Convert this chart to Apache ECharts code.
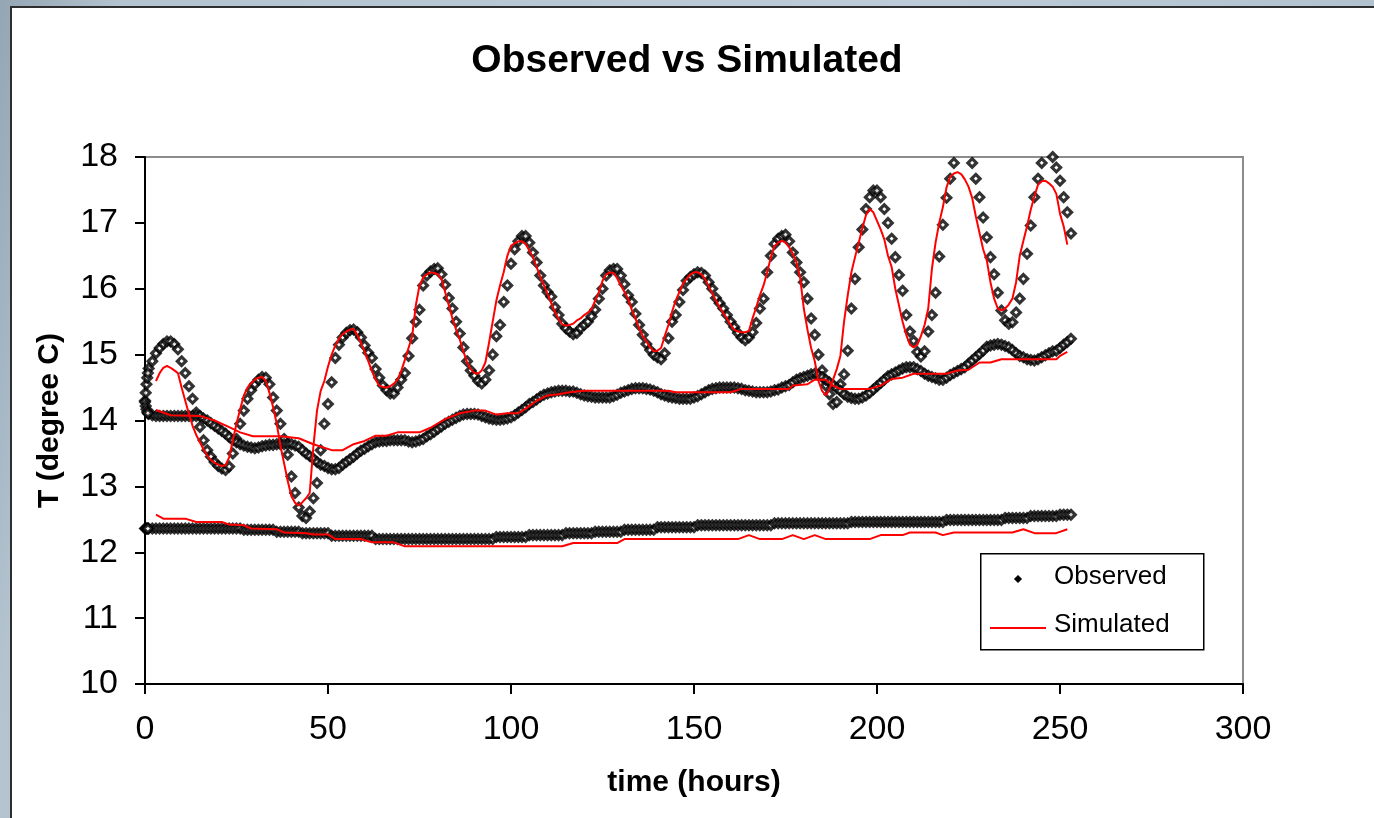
<!DOCTYPE html>
<html><head><meta charset="utf-8">
<script src="https://cdn.jsdelivr.net/npm/echarts@6/dist/echarts.min.js"></script>
<style>
html,body{margin:0;padding:0;width:1374px;height:818px;overflow:hidden;
 background:linear-gradient(100deg,#94a5b3 0%,#b3c3d0 8%,#bccbd7 60%,#aebfcc 100%);}
#frame{position:absolute;left:10px;top:6px;width:1400px;height:900px;background:#fff;border:2px solid #2e2e2e;}
#chart{position:absolute;left:0;top:0;width:1374px;height:818px;}
</style></head>
<body><div id="frame"></div><div id="chart"></div>
<script>
// ---- data ----
const xTicks = [0, 50, 100, 150, 200, 250, 300];
const yTicks = [10, 11, 12, 13, 14, 15, 16, 17, 18];

// observed, hourly from t = 0
const obsA = [
14.30,14.79,14.90,15.02,15.10,15.16,15.20,15.20,15.16,15.08,
14.90,14.72,14.52,14.33,14.12,13.90,13.70,13.55,13.45,13.37,
13.31,13.27,13.25,13.30,13.50,13.72,13.95,14.15,14.33,14.46,
14.55,14.62,14.66,14.65,14.55,14.35,14.15,13.95,13.72,13.48,
13.15,12.90,12.68,12.55,12.52,12.62,12.82,13.05,13.55,13.95,
14.25,14.58,14.95,15.15,15.26,15.33,15.37,15.38,15.34,15.26,
15.14,15.03,14.95,14.78,14.65,14.53,14.46,14.41,14.41,14.50,
14.62,14.72,14.98,15.25,15.50,15.68,16.05,16.20,16.26,16.30,
16.31,16.22,16.06,15.86,15.70,15.50,15.32,15.11,14.90,14.76,
14.68,14.60,14.56,14.62,14.76,15.00,15.28,15.45,15.80,16.05,
16.38,16.60,16.72,16.80,16.80,16.70,16.55,16.40,16.20,16.05,
15.95,15.88,15.72,15.60,15.47,15.40,15.35,15.31,15.33,15.40,
15.45,15.50,15.58,15.68,15.85,16.00,16.20,16.28,16.30,16.30,
16.20,16.07,15.90,15.80,15.62,15.45,15.30,15.16,15.07,15.00,
14.96,14.93,15.02,15.25,15.50,15.60,15.80,15.98,16.12,16.18,
16.22,16.25,16.24,16.20,16.10,16.00,15.86,15.78,15.70,15.60,
15.50,15.42,15.33,15.26,15.22,15.26,15.34,15.48,15.70,15.85,
16.25,16.50,16.68,16.76,16.80,16.82,16.72,16.55,16.40,16.25,
16.10,15.85,15.55,15.30,15.00,14.76,14.53,14.40,14.25,14.28,
14.55,14.70,15.06,15.70,16.15,16.63,16.90,17.21,17.39,17.49,
17.49,17.39,17.21,17.00,16.76,16.48,16.21,15.97,15.60,15.35,
15.21,15.04,14.97,15.05,15.35,15.60,15.94,16.49,16.97,17.38,
17.67,17.91,18.10,18.20,18.20,18.10,17.91,17.67,17.39,17.08,
16.78,16.48,16.22,15.94,15.67,15.52,15.47,15.49,15.64,15.85,
16.15,16.53,16.96,17.39,17.67,17.91,18.10,18.10,18.00,17.84,
17.64,17.39,17.16,16.84];

const obsB = [
14.28,14.10,14.08,14.07,14.07,14.07,14.07,14.07,14.07,14.07,
14.07,14.07,14.07,14.07,14.07,14.07,14.03,14.00,13.96,13.92,
13.88,13.84,13.80,13.75,13.70,13.67,13.64,13.62,13.60,13.59,
13.58,13.59,13.61,13.62,13.63,13.63,13.64,13.64,13.64,13.64,
13.64,13.62,13.60,13.55,13.50,13.46,13.42,13.37,13.33,13.31,
13.28,13.26,13.26,13.28,13.33,13.37,13.41,13.45,13.50,13.54,
13.57,13.61,13.64,13.67,13.68,13.69,13.69,13.70,13.70,13.70,
13.70,13.70,13.68,13.67,13.68,13.70,13.72,13.76,13.79,13.83,
13.87,13.91,13.95,13.98,14.01,14.04,14.07,14.09,14.10,14.10,
14.10,14.09,14.07,14.05,14.03,14.02,14.01,14.01,14.02,14.03,
14.05,14.08,14.12,14.16,14.20,14.25,14.28,14.32,14.36,14.39,
14.41,14.43,14.44,14.45,14.45,14.45,14.44,14.44,14.42,14.40,
14.38,14.37,14.36,14.35,14.35,14.35,14.35,14.35,14.37,14.39,
14.42,14.44,14.46,14.48,14.49,14.49,14.49,14.48,14.47,14.45,
14.43,14.40,14.38,14.36,14.35,14.34,14.33,14.33,14.33,14.33,
14.35,14.37,14.40,14.43,14.46,14.48,14.49,14.50,14.50,14.50,
14.50,14.50,14.49,14.48,14.46,14.45,14.44,14.43,14.43,14.43,
14.43,14.44,14.46,14.47,14.50,14.52,14.54,14.58,14.62,14.64,
14.66,14.68,14.70,14.71,14.69,14.66,14.62,14.58,14.54,14.49,
14.45,14.40,14.36,14.34,14.33,14.33,14.35,14.38,14.42,14.47,
14.52,14.57,14.62,14.67,14.70,14.73,14.76,14.79,14.81,14.81,
14.81,14.78,14.75,14.71,14.68,14.66,14.64,14.62,14.62,14.65,
14.69,14.72,14.75,14.78,14.81,14.86,14.91,14.96,15.01,15.06,
15.12,15.14,15.15,15.16,15.15,15.13,15.11,15.07,15.02,14.98,
14.96,14.93,14.92,14.91,14.93,14.96,14.99,15.02,15.05,15.06,
15.10,15.15,15.19,15.24];

const obsC = [
12.36,12.36,12.36,12.36,12.36,12.36,12.36,12.36,12.36,12.36,
12.36,12.36,12.36,12.36,12.36,12.36,12.36,12.36,12.36,12.36,
12.36,12.36,12.36,12.36,12.36,12.36,12.36,12.34,12.34,12.34,
12.34,12.34,12.34,12.34,12.34,12.34,12.31,12.31,12.31,12.31,
12.31,12.31,12.31,12.29,12.29,12.29,12.29,12.29,12.29,12.29,
12.29,12.25,12.25,12.25,12.25,12.25,12.25,12.25,12.25,12.25,
12.25,12.25,12.25,12.20,12.20,12.20,12.20,12.20,12.20,12.20,
12.20,12.20,12.20,12.20,12.20,12.20,12.20,12.20,12.20,12.20,
12.20,12.20,12.20,12.20,12.20,12.20,12.20,12.20,12.20,12.20,
12.20,12.20,12.20,12.20,12.20,12.20,12.23,12.23,12.23,12.23,
12.23,12.23,12.23,12.23,12.23,12.26,12.26,12.26,12.26,12.26,
12.26,12.26,12.26,12.26,12.26,12.29,12.29,12.29,12.29,12.29,
12.29,12.29,12.29,12.31,12.31,12.31,12.31,12.31,12.31,12.31,
12.31,12.34,12.34,12.34,12.34,12.34,12.34,12.34,12.34,12.34,
12.38,12.38,12.38,12.38,12.38,12.38,12.38,12.38,12.38,12.38,
12.38,12.41,12.41,12.41,12.41,12.41,12.41,12.41,12.41,12.41,
12.41,12.41,12.41,12.41,12.41,12.41,12.41,12.41,12.41,12.41,
12.41,12.41,12.44,12.44,12.44,12.44,12.44,12.44,12.44,12.44,
12.44,12.44,12.44,12.44,12.44,12.44,12.44,12.44,12.44,12.44,
12.44,12.44,12.44,12.46,12.46,12.46,12.46,12.46,12.46,12.46,
12.46,12.46,12.46,12.46,12.46,12.46,12.46,12.46,12.46,12.46,
12.46,12.46,12.46,12.46,12.46,12.46,12.46,12.46,12.46,12.49,
12.49,12.49,12.49,12.49,12.49,12.49,12.49,12.49,12.49,12.49,
12.49,12.49,12.49,12.49,12.49,12.52,12.52,12.52,12.52,12.52,
12.52,12.52,12.55,12.55,12.55,12.55,12.55,12.55,12.55,12.55,
12.57,12.57,12.57,12.57];

// extra observed readings inside the first hour
const earlyTimes = [0.2, 0.4, 0.6, 0.8];
const earlyA = [14.42, 14.55, 14.65, 14.72];
const earlyB = [14.22, 14.17, 14.13, 14.11];
const earlyC = [12.36, 12.36, 12.36, 12.36];

// simulated, [time, value]
const simA = [
[3,14.60],[4,14.72],[5,14.80],[6,14.83],[7,14.80],[8,14.76],[9,14.72],[10,14.50],[11,14.30],[12,14.10],
[13,13.92],[14,13.78],[15,13.67],[16,13.56],[17,13.47],[18,13.40],[19,13.36],[20,13.33],[21,13.31],[22,13.32],
[23,13.44],[24,13.70],[25,13.95],[26,14.17],[27,14.38],[28,14.50],[29,14.57],[30,14.62],[31,14.65],[32,14.66],
[33,14.60],[34,14.42],[35,14.20],[36,13.95],[37,13.62],[38,13.35],[39,13.08],[40,12.85],[41,12.75],[42,12.71],
[43,12.76],[44,12.82],[45,12.90],[46,13.60],[47,14.15],[48,14.45],[49,14.60],[50,14.82],[51,15.00],[52,15.14],
[53,15.24],[54,15.31],[55,15.35],[56,15.38],[57,15.39],[58,15.30],[59,15.18],[60,15.04],[61,14.90],[62,14.75],
[63,14.62],[64,14.53],[65,14.51],[66,14.50],[67,14.52],[68,14.56],[69,14.62],[70,14.75],[71,14.92],[72,15.10],
[73,15.28],[74,15.75],[75,16.05],[76,16.17],[77,16.22],[78,16.25],[79,16.24],[80,16.22],[81,16.15],[82,15.95],
[83,15.75],[84,15.55],[85,15.38],[86,15.23],[87,15.05],[88,14.88],[89,14.78],[90,14.72],[91,14.71],[92,14.76],
[93,14.88],[94,15.18],[95,15.50],[96,15.82],[97,16.05],[98,16.25],[99,16.50],[100,16.65],[101,16.69],[102,16.72],
[103,16.72],[104,16.68],[105,16.58],[106,16.48],[107,16.33],[108,16.18],[109,16.05],[110,15.92],[111,15.78],[112,15.65],
[113,15.54],[114,15.46],[115,15.44],[116,15.45],[117,15.47],[118,15.52],[119,15.55],[120,15.60],[121,15.64],[122,15.69],
[123,15.82],[124,15.95],[125,16.12],[126,16.22],[127,16.25],[128,16.24],[129,16.16],[130,16.05],[131,15.95],[132,15.85],
[133,15.68],[134,15.55],[135,15.40],[136,15.28],[137,15.20],[138,15.11],[139,15.05],[140,15.06],[141,15.10],[142,15.28],
[143,15.45],[144,15.65],[145,15.82],[146,15.95],[147,16.08],[148,16.15],[149,16.22],[150,16.25],[151,16.25],[152,16.22],
[153,16.15],[154,16.04],[155,15.93],[156,15.82],[157,15.72],[158,15.63],[159,15.55],[160,15.45],[161,15.38],[162,15.35],
[163,15.34],[164,15.34],[165,15.36],[166,15.55],[167,15.72],[168,15.90],[169,16.05],[170,16.25],[171,16.48],[172,16.65],
[173,16.70],[174,16.73],[175,16.70],[176,16.63],[177,16.53],[178,16.40],[179,16.17],[180,15.70],[181,15.38],[182,15.10],
[183,14.90],[184,14.60],[185,14.45],[186,14.38],[187,14.48],[188,14.62],[189,14.78],[190,14.98],[191,15.50],[192,15.90],
[193,16.25],[194,16.48],[195,16.70],[196,16.92],[197,17.12],[198,17.21],[199,17.16],[200,17.03],[201,16.90],[202,16.75],
[203,16.50],[204,16.33],[205,16.00],[206,15.75],[207,15.50],[208,15.30],[209,15.15],[210,15.11],[211,15.15],[212,15.28],
[213,15.45],[214,15.70],[215,16.30],[216,16.70],[217,17.00],[218,17.24],[219,17.54],[220,17.70],[221,17.75],[222,17.77],
[223,17.74],[224,17.66],[225,17.55],[226,17.38],[227,17.10],[228,16.85],[229,16.60],[230,16.43],[231,16.10],[232,15.85],
[233,15.70],[234,15.67],[235,15.70],[236,15.76],[237,15.85],[238,16.10],[239,16.50],[240,16.73],[241,16.95],[242,17.20],
[243,17.40],[244,17.58],[245,17.63],[246,17.64],[247,17.60],[248,17.55],[249,17.44],[250,17.14],[251,16.95],[252,16.67]];

const simB = [
[3,14.16],[7,14.08],[15,14.07],[19,14.00],[23,13.90],[26,13.82],[29.5,13.76],[37,13.76],[42,13.73],[46,13.64],
[51,13.55],[54,13.55],[57,13.64],[60,13.69],[63,13.77],[66,13.77],[69,13.82],[75,13.82],[78,13.89],[82,14.02],
[86,14.11],[90,14.15],[93,14.15],[96,14.09],[99,14.11],[102,14.11],[104,14.18],[107,14.30],[110,14.38],[113,14.40],
[116,14.43],[120,14.45],[143,14.45],[145,14.43],[160,14.43],[163,14.48],[176,14.48],[177,14.53],[181,14.55],[183,14.62],
[186,14.62],[188,14.53],[190,14.48],[198,14.48],[201,14.53],[204,14.63],[207,14.65],[210,14.71],[219,14.71],[222,14.76],
[225,14.77],[228,14.88],[231,14.88],[234,14.93],[249,14.93],[250,14.98],[252,15.04]];

const simC = [
[3,12.57],[5,12.51],[11,12.51],[14,12.46],[21,12.46],[23,12.42],[27,12.41],[29,12.36],[36,12.35],[38,12.30],
[44,12.29],[46,12.27],[50,12.27],[52,12.20],[59,12.20],[62,12.15],[68,12.15],[71,12.09],[114,12.09],[117,12.14],
[129,12.14],[131,12.20],[162,12.20],[165,12.26],[168,12.20],[174,12.20],[177,12.26],[180,12.20],[183,12.26],[186,12.20],
[198,12.20],[201,12.26],[207,12.26],[209,12.30],[216,12.30],[218,12.26],[221,12.30],[237,12.30],[240,12.35],[243,12.29],
[249,12.29],[252,12.35]];

// ---- build ----
function hourly(vals, eTimes, eVals){
  const out = vals.map((v,i)=>[i, v]);
  eTimes.forEach((t,k)=>out.push([t, eVals[k]]));
  return out;
}
const FONT = '"Liberation Sans", Arial, sans-serif';
const obsStyle = {
  type:'scatter', name:'Observed', symbol:'diamond', symbolSize:8.5, clip:true,
  itemStyle:{color:'#ffffff', borderColor:'#000000', borderWidth:3.2}, z:2, silent:true
};
const simStyle = {
  type:'line', name:'Simulated', showSymbol:false, clip:true, z:3, silent:true,
  lineStyle:{color:'#ff0000', width:2}, itemStyle:{color:'#ff0000'}
};

const chart = echarts.init(document.getElementById('chart'), null, {renderer:'canvas'});
chart.setOption({
  animation:false,
  backgroundColor:'transparent',
  title:{text:'Observed vs Simulated', left:'center', top:37,
    textStyle:{fontFamily:FONT, fontSize:39, fontWeight:'bold', color:'#000'}},
  grid:{left:145, right:131, top:157, bottom:134, show:true, borderColor:'#8c8c8c', borderWidth:2, backgroundColor:'transparent'},
  xAxis:{type:'value', min:xTicks[0], max:xTicks[xTicks.length-1], interval:xTicks[1]-xTicks[0],
    name:'time (hours)', nameLocation:'middle', nameGap:84,
    nameTextStyle:{fontFamily:FONT, fontSize:30, fontWeight:'bold', color:'#000'},
    axisLine:{lineStyle:{color:'#000', width:2}},
    axisTick:{inside:false, length:10, lineStyle:{color:'#000', width:2}},
    axisLabel:{fontFamily:FONT, fontSize:34, color:'#000', margin:29},
    splitLine:{show:false}},
  yAxis:{type:'value', min:yTicks[0], max:yTicks[yTicks.length-1], interval:yTicks[1]-yTicks[0],
    name:'T (degree C)', nameLocation:'middle', nameGap:80, nameRotate:90,
    nameTextStyle:{fontFamily:FONT, fontSize:30, fontWeight:'bold', color:'#000'},
    axisLine:{lineStyle:{color:'#000', width:2}},
    axisTick:{inside:false, length:10, lineStyle:{color:'#000', width:2}},
    axisLabel:{fontFamily:FONT, fontSize:34, color:'#000', margin:27},
    splitLine:{show:false}},
  legend:{show:false},
  series:[
    Object.assign({}, obsStyle, {data:hourly(obsA, earlyTimes, earlyA)}),
    Object.assign({}, obsStyle, {data:hourly(obsB, earlyTimes, earlyB)}),
    Object.assign({}, obsStyle, {data:hourly(obsC, earlyTimes, earlyC)}),
    Object.assign({}, simStyle, {data:simA}),
    Object.assign({}, simStyle, {data:simB}),
    Object.assign({}, simStyle, {data:simC})
  ],
  graphic:[
    {type:'rect', left:980, top:553, shape:{width:223, height:96},
     style:{fill:'#fff', stroke:'#000', lineWidth:1.5}, z:10},
    {type:'polygon', shape:{points:[[1018,576],[1021,579],[1018,582],[1015,579]]},
     style:{fill:'#000', stroke:'#000', lineWidth:1.5}, z:11},
    {type:'text', left:1054, top:564, style:{text:'Observed', font:'26px '+FONT, fill:'#000'}, z:11},
    {type:'line', shape:{x1:990, y1:628, x2:1046, y2:628}, style:{stroke:'#ff0000', lineWidth:2}, z:11},
    {type:'text', left:1054, top:612, style:{text:'Simulated', font:'26px '+FONT, fill:'#000'}, z:11}
  ]
});
</script></body></html>
